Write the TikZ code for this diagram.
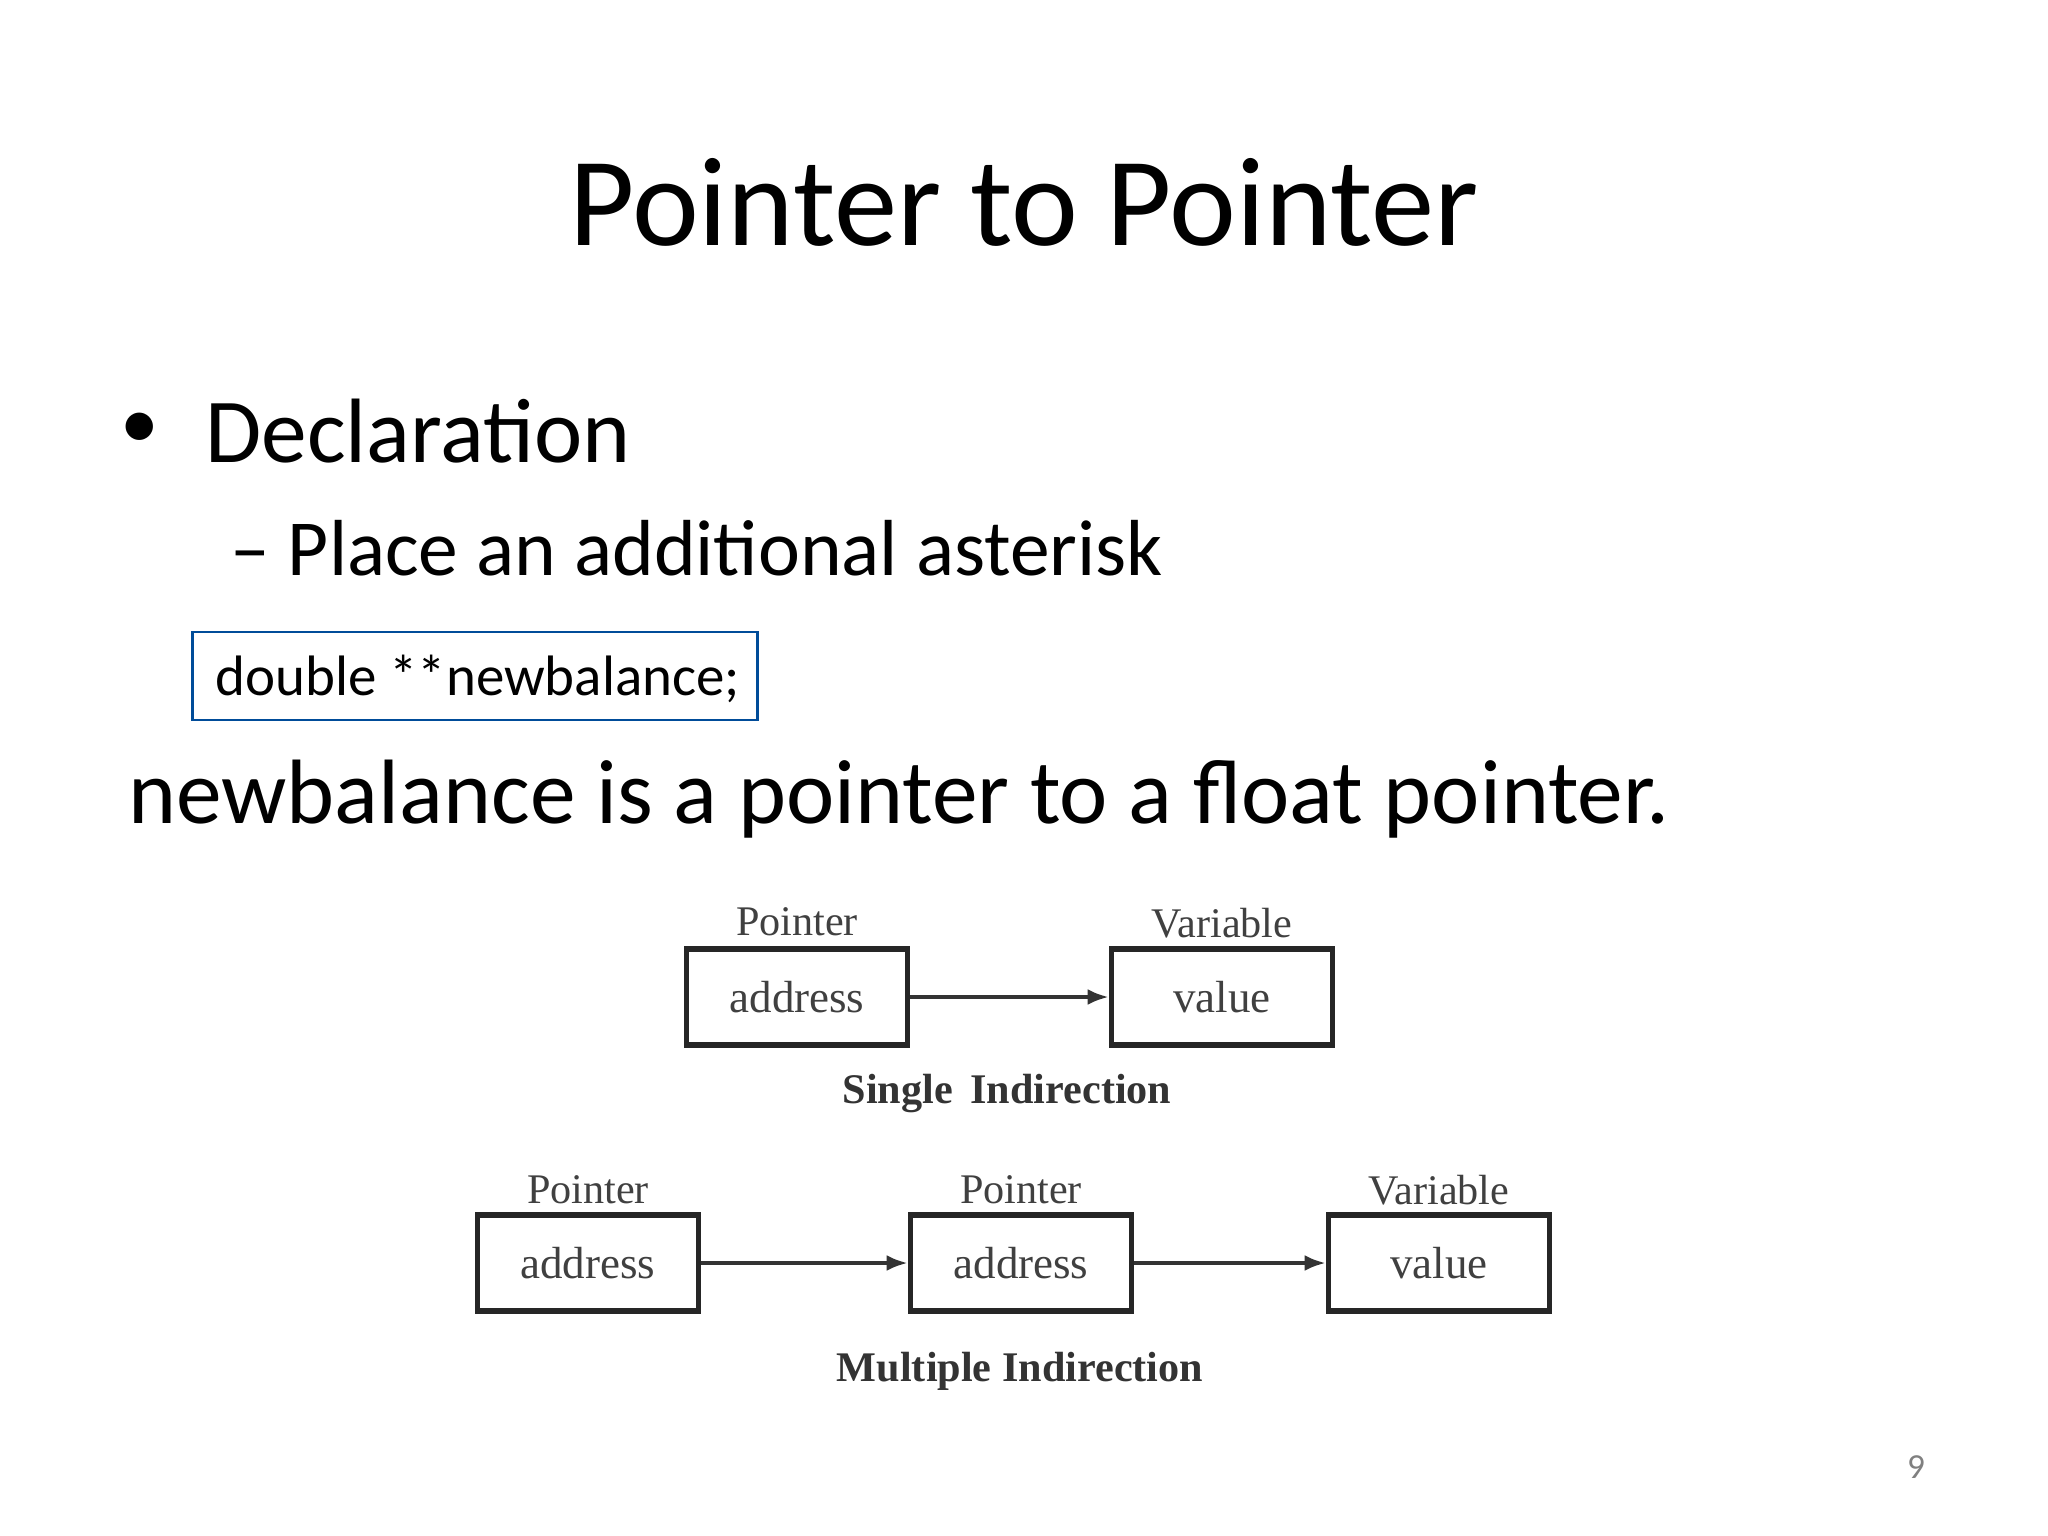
\documentclass[tikz,border=0pt]{standalone}
\usepackage{fontspec}
\setmainfont{Carlito}
\newfontfamily\diag{Liberation Serif}
\usetikzlibrary{arrows.meta}
\begin{document}
\begin{tikzpicture}[x=0.01cm,y=-0.01cm,
  bx/.style={draw=black!85,line width=1.5pt,minimum width=2.21cm,minimum height=0.96cm,inner sep=0pt,font=\diag\fontsize{12.8}{13}\selectfont,text=black!75},
  lb/.style={font=\diag\fontsize{12}{12}\selectfont,text=black!75},
  capt/.style={font=\diag\bfseries\fontsize{12}{12}\selectfont,text=black!80},
  ar/.style={line width=1.1pt,draw=black!80,-{Latex[length=6pt,width=4.5pt]}}]
\useasboundingbox (0,0) rectangle (2048,1536);
\node (title) at (1024,202) {\fontsize{36}{36}\selectfont Pointer to Pointer};
\node (b1) at (140,431) {\fontsize{22}{22}\selectfont •};
\node[anchor=west] (decl) at (193,431) {\fontsize{26}{26}\selectfont Declaration};
\node[anchor=west] (sub) at (218,548) {\fontsize{22.6}{23}\selectfont – Place an additional asterisk};
\node[draw=blue!50!cyan!60!black,line width=0.8pt,minimum width=5.65cm,minimum height=0.88cm,anchor=west,inner sep=0] (code) at (191,676) {};
\node[anchor=west] (codet) at (203,679) {\fontsize{16.2}{17}\selectfont double **newbalance;};
\node[anchor=west] (nb) at (116,799) {\fontsize{26}{26}\selectfont newbalance is a pointer to a float pointer.};
\node[text=gray] (pg) at (1916,1467) {\fontsize{10}{10}\selectfont 9};
% single
\node[bx] (s1) at (797,997) {address};
\node[bx] (s2) at (1222,997) {value};
\node[lb] (sl1) at (797,922) {Pointer};
\node[lb] (sl2) at (1222,923) {Variable};
\draw[ar] (s1) -- (s2);
\node[capt] (sc) at (1007,1094) {Single\, Indirection};
% multiple
\node[bx] (m1) at (588,1263) {address};
\node[bx] (m2) at (1021,1263) {address};
\node[bx] (m3) at (1439,1263) {value};
\node[lb] (ml1) at (588,1190) {Pointer};
\node[lb] (ml2) at (1021,1190) {Pointer};
\node[lb] (ml3) at (1439,1190) {Variable};
\draw[ar] (m1) -- (m2);
\draw[ar] (m2) -- (m3);
\node[capt] (mc) at (1020,1371) {Multiple Indirection};
\end{tikzpicture}
\end{document}
